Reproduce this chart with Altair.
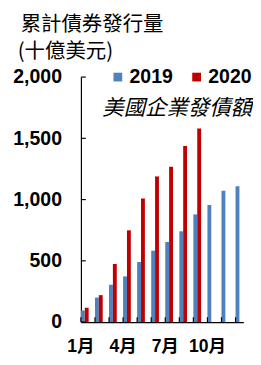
import json
import altair as alt
import pandas as pd

# ---- data ----
months = ["1月", "2月", "3月", "4月", "5月", "6月", "7月", "8月", "9月", "10月", "11月", "12月"]
shown_months = ["1月", "4月", "7月", "10月"]
years = ["2019", "2020"]
v2019 = [95, 200, 305, 373, 490, 583, 654, 741, 879, 956, 1072, 1109]
v2020 = [117, 220, 474, 749, 1008, 1189, 1268, 1437, 1580]
yticks = [0, 500, 1000, 1500, 2000]
title_lines = ["累計債券發行量", "(十億美元)"]
note_text = "美國企業發債額"

BLUE = "#4F81BD"
RED = "#C00000"
LAT = "'Liberation Sans', Arial, 'Noto Sans CJK TC', sans-serif"
CJK = "'Noto Sans CJK TC', 'Noto Sans CJK SC', sans-serif"

rows = []
for i, m in enumerate(months):
    rows.append({"month": m, "year": years[0], "value": v2019[i]})
    if i < len(v2020):
        rows.append({"month": m, "year": years[1], "value": v2020[i]})
df = pd.DataFrame(rows)

W, H = 167, 252

label_expr = "indexof(%s, datum.label) >= 0 ? datum.label : ''" % json.dumps(shown_months, ensure_ascii=False)

x_scale = alt.Scale(domain=months, paddingInner=0.45, paddingOuter=0)
x_axis = alt.Axis(
    title=None, labelExpr=label_expr, ticks=False, domain=True, domainColor="black",
    domainWidth=1.2, labelFont=LAT, labelFontSize=18, labelFontWeight="bold",
    labelColor="black", labelPadding=16, labelOffset=-4, labelAngle=0, grid=False,
)
y_scale = alt.Scale(domain=[0, 2000], nice=False)
y_axis = alt.Axis(
    title=None, values=yticks, labelExpr="format(datum.value, ',')", ticks=False, grid=False,
    labelFont=LAT, labelFontSize=20, labelFontWeight="bold", labelColor="black",
    labelPadding=20, domainColor="black", domainWidth=1.2,
)

bars = alt.Chart(df).mark_bar().encode(
    x=alt.X("month:N", sort=months, scale=x_scale, axis=x_axis),
    xOffset=alt.XOffset("year:N", scale=alt.Scale(domain=years)),
    y=alt.Y("value:Q", scale=y_scale, axis=y_axis),
    color=alt.Color(
        "year:N",
        scale=alt.Scale(domain=years, range=[BLUE, RED]),
        legend=alt.Legend(
            title=None, orient="none", legendX=28, legendY=-10, direction="horizontal",
            symbolType="square", symbolSize=81, symbolStrokeWidth=0,
            labelFont=LAT, labelFontSize=20, labelFontWeight="bold", labelColor="black",
            labelOffset=2, columnPadding=14, padding=0,
        ),
    ),
)

xticks = alt.Chart(pd.DataFrame({"month": months})).mark_rule(color="black", strokeWidth=1.2).encode(
    x=alt.X("month:N", sort=months, bandPosition=0, scale=x_scale, axis=x_axis),
    y=alt.value(H - 5),
    y2=alt.value(H),
)

yt = alt.Chart(pd.DataFrame({"value": yticks})).mark_rule(color="black", strokeWidth=1.2).encode(
    y=alt.Y("value:Q", scale=y_scale, axis=y_axis),
    x=alt.value(0),
    x2=alt.value(5),
)

t1 = alt.Chart(pd.DataFrame({"t": [title_lines[0]]})).mark_text(
    align="left", baseline="middle", font=CJK, fontSize=21, color="black"
).encode(text="t:N", x=alt.value(-62), y=alt.value(-53))

t2 = alt.Chart(pd.DataFrame({"t": [title_lines[1]]})).mark_text(
    align="left", baseline="middle", font=CJK, fontSize=21, color="black"
).encode(text="t:N", x=alt.value(-65), y=alt.value(-26))

note = alt.Chart(pd.DataFrame({"t": [note_text]})).mark_text(
    align="left", baseline="middle", font=CJK, fontSize=22, fontStyle="italic", color="black"
).encode(text="t:N", x=alt.value(22), y=alt.value(32))

chart = alt.layer(bars, xticks, yt, t1, t2, note).properties(
    width=W,
    height=H,
    autosize=alt.AutoSizeParams(type="none"),
    padding={"left": 75, "top": 66, "right": 10, "bottom": 36},
).configure_view(stroke=None)

chart.save("out.html", embed_options={"renderer": "svg", "actions": False})
